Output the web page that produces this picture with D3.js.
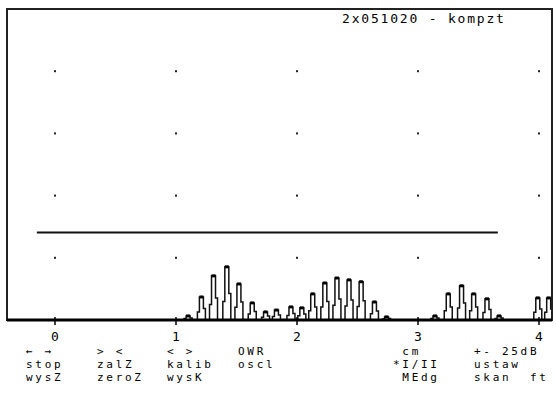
<!DOCTYPE html>
<html>
<head>
<meta charset="utf-8">
<script src="https://cdn.jsdelivr.net/npm/d3@7"></script>
<style>
  body { margin: 0; background: #fff; }
  svg text { font-family: "DejaVu Sans Mono", monospace; fill: #000; white-space: pre; }
</style>
</head>
<body>
<svg id="chart" width="556" height="394"></svg>
<script>
// scan data
const axisTicks = [0, 1, 2, 3, 4];
const gridLevels = [20, 40, 60, 80];
const peakPos = [1.10, 1.21, 1.31, 1.42, 1.52, 1.63, 1.74, 1.83, 1.95, 2.04, 2.13, 2.23, 2.33,
  2.43, 2.53, 2.64, 2.74, 3.14, 3.25, 3.36, 3.46, 3.57, 3.67, 3.99, 4.08];
const peakAmp = [1.3, 7.4, 14.2, 17.1, 11.6, 5.5, 2.6, 3.2, 4.2, 3.9, 8.4, 11.9, 13.5,
  12.9, 12.3, 5.8, 1.0, 1.3, 8.4, 11.0, 8.4, 6.8, 1.3, 7.1, 7.1];
const gateStart = -0.15;
const gateEnd = 3.66;
const gateLevel = 28.4;
const title = '2x051020 - kompzt';
const menuCols = [
  ['\u2190 \u2192', 'stop', 'wysZ'],
  ['> <', 'zalZ', 'zeroZ'],
  ['< >', 'kalib', 'wysK'],
  ['OWR', 'oscl', ''],
  [' cm', '*I/II', ' MEdg'],
  ['+- 25dB', 'ustaw', 'skan  ft']
];

// layout
const frame = { left: 7, top: 9, right: 552, bottom: 320 };
const menuX = [26, 97, 167, 238, 393, 474];
const menuY = [355, 368, 381];

const svg = d3.select('#chart');

const x = d3.scaleLinear().domain([0, 4]).range([55, 539]);
const y = d3.scaleLinear().domain([0, 100]).range([frame.bottom, frame.top]);

// frame
svg.append('rect')
  .attr('x', frame.left)
  .attr('y', frame.top)
  .attr('width', frame.right - frame.left)
  .attr('height', frame.bottom - frame.top)
  .attr('fill', 'none')
  .attr('stroke', '#222')
  .attr('stroke-width', 2);

// grid dots
const gD = svg.append('g');
axisTicks.forEach(t => {
  gridLevels.forEach(l => {
    gD.append('rect')
      .attr('x', x(t) - 1)
      .attr('y', y(l) - 1)
      .attr('width', 2)
      .attr('height', 2)
      .attr('fill', '#222');
  });
});

// gate line
svg.append('line')
  .attr('x1', x(gateStart))
  .attr('x2', x(gateEnd))
  .attr('y1', Math.round(y(gateLevel)) + 0.5)
  .attr('y2', Math.round(y(gateLevel)) + 0.5)
  .attr('stroke', '#111')
  .attr('stroke-width', 2);

// echoes
const gP = svg.append('g').attr('clip-path', 'url(#clip)');
svg.append('clipPath').attr('id', 'clip')
  .append('rect')
  .attr('x', frame.left)
  .attr('y', frame.top)
  .attr('width', frame.right - frame.left - 1)
  .attr('height', frame.bottom - frame.top);

const y0 = y(0);
peakPos.forEach((p, i) => {
  const cx = x(p);
  const top = y(peakAmp[i]);
  const h = y0 - top;
  const d = [
    `M${cx - 5},${y0}`,
    `L${cx - 4},${y0}`,
    `L${cx - 4},${y0 - h * 0.35}`,
    `L${cx - 2},${y0 - h * 0.35}`,
    `L${cx - 2},${top}`,
    `L${cx + 2},${top}`,
    `L${cx + 2},${y0 - h * 0.5}`,
    `L${cx + 4},${y0 - h * 0.5}`,
    `L${cx + 4},${y0}`,
    `L${cx + 5},${y0}`
  ].join('');
  gP.append('path')
    .attr('d', d)
    .attr('fill', '#fff')
    .attr('stroke', '#111')
    .attr('stroke-width', 1.5);
  gP.append('line')
    .attr('x1', cx - 2)
    .attr('x2', cx + 2)
    .attr('y1', top)
    .attr('y2', top)
    .attr('stroke', '#000')
    .attr('stroke-width', 3);
});

// base line and ticks
svg.append('line')
  .attr('x1', frame.left)
  .attr('x2', frame.right)
  .attr('y1', y0)
  .attr('y2', y0)
  .attr('stroke', '#000')
  .attr('stroke-width', 3);

const gT = svg.append('g');
axisTicks.forEach(t => {
  gT.append('line')
    .attr('x1', x(t))
    .attr('x2', x(t))
    .attr('y1', y0 - 3)
    .attr('y2', y0 + 5)
    .attr('stroke', '#000')
    .attr('stroke-width', 1.5);
  gT.append('text')
    .attr('x', x(t))
    .attr('y', 341)
    .attr('text-anchor', 'middle')
    .attr('font-size', 13)
    .text(t);
});

// title
svg.append('text')
  .attr('x', 342)
  .attr('y', 23)
  .attr('font-size', 13)
  .attr('letter-spacing', 1.8)
  .text(title);

// soft key menu
const gM = svg.append('g');
menuCols.forEach((col, c) => {
  col.forEach((label, r) => {
    gM.append('text')
      .attr('x', menuX[c])
      .attr('y', menuY[r])
      .attr('font-size', 11)
      .attr('letter-spacing', 2.7)
      .text(label);
  });
});
</script>
</body>
</html>
